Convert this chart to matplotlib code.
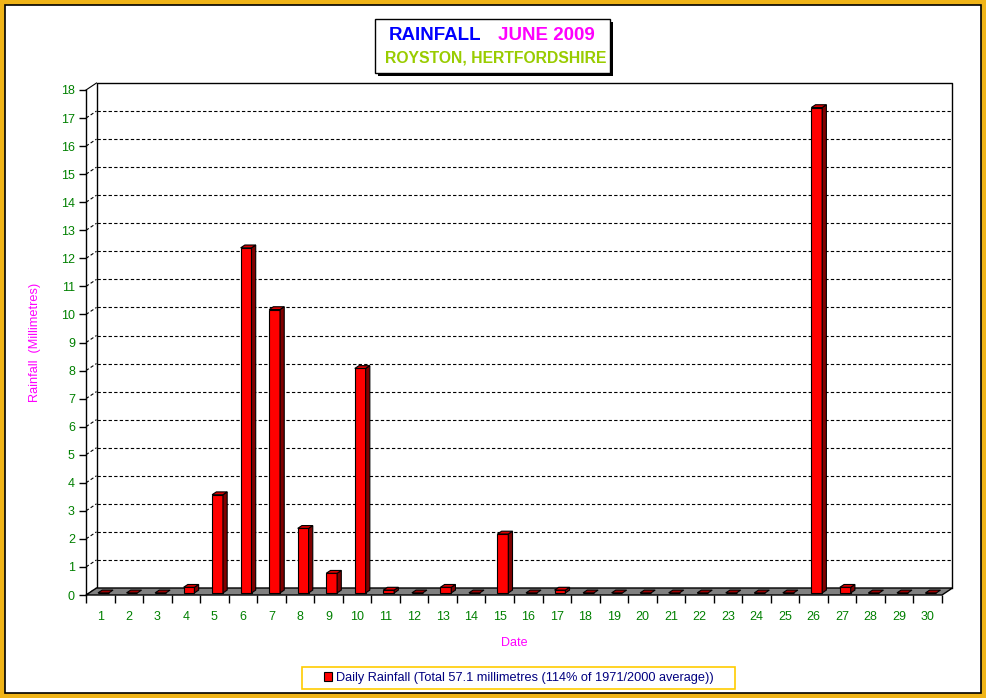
"""Daily rainfall, June 2009, Royston - old-style 3D column chart."""

import matplotlib.pyplot as plt
import matplotlib.patches as mpatches
from matplotlib.patches import Polygon

plt.rcParams["font.family"] = ["Liberation Sans", "DejaVu Sans"]

days = list(range(1, 31))
rain_mm = [0, 0, 0, 0.2, 3.5, 12.3, 10.1, 2.3, 0.7, 8.0,
           0.1, 0, 0.2, 0, 2.1, 0, 0.1, 0, 0, 0,
           0, 0, 0, 0, 0, 17.3, 0.2, 0, 0, 0]
y_ticks = list(range(0, 19))
legend_label = "Daily Rainfall (Total 57.1 millimetres (114% of 1971/2000 average))"

W, H = 987, 698
AX_W, AX_H = 856, 505
DEPTH_PX = (10.5, 7)        # back wall offset (right, up) in pixels
BAR_W = 0.38                # bar width in category units
F0, F1 = 0.3, 0.7           # bar depth span as fraction of full depth

fig = plt.figure(figsize=(W / 100, H / 100), dpi=100)

# outer orange frame + white panel
fig.patches.append(mpatches.Rectangle((0, 0), 1, 1, transform=fig.transFigure,
                                      facecolor="#F0B418", edgecolor="none", zorder=-10))
fig.patches.append(mpatches.Rectangle((5 / W, 5 / H), 976 / W, 688 / H,
                                      transform=fig.transFigure, facecolor="white",
                                      edgecolor="black", lw=1.2, zorder=-9))

ax = fig.add_axes([86 / W, (H - 595) / H, AX_W / W, AX_H / H])
ax.set_facecolor("none")
ax.set_xlim(0.5, 30.5)
ax.set_ylim(0, 18)
for s in ("top", "right", "bottom"):
    ax.spines[s].set_visible(False)
ax.spines["left"].set_linewidth(1)

ddx = DEPTH_PX[0] * 30 / AX_W
ddy = DEPTH_PX[1] * 18 / AX_H
x0, x1 = 0.5, 30.5

# back wall gridlines and side wall diagonals
for k in y_ticks[1:-1]:
    ax.plot([x0 + ddx, x1 + ddx], [k + ddy, k + ddy], color="black", lw=0.8,
            dashes=(3, 2), clip_on=False, zorder=1)
for k in y_ticks:
    ax.plot([x0, x0 + ddx], [k, k + ddy], color="black", lw=0.8,
            dashes=(3, 2) if k != 18 else (None, None),
            clip_on=False, zorder=1)
# back wall frame
ax.plot([x0 + ddx, x0 + ddx, x1 + ddx, x1 + ddx],
        [ddy, 18 + ddy, 18 + ddy, ddy], color="black", lw=1, clip_on=False, zorder=1)

# floor
ax.add_patch(Polygon([(x0, 0), (x1, 0), (x1 + ddx, ddy), (x0 + ddx, ddy)],
                     closed=True, facecolor="#808080", edgecolor="black", lw=1,
                     clip_on=False, zorder=2))

# bars: front face through ax.bar, side and top faces as polygons
fx, fy = F0 * ddx, F0 * ddy
bx, by = (F1 - F0) * ddx, (F1 - F0) * ddy
front_x = [d + fx for d in days]
ax.bar(front_x, rain_mm, width=BAR_W, bottom=fy, color="#FF0000",
       edgecolor="black", lw=0.8, clip_on=False, zorder=4)
for d, v in zip(front_x, rain_mm):
    l, r = d - BAR_W / 2, d + BAR_W / 2
    top = fy + v
    if v > 0:
        ax.add_patch(Polygon([(r, fy), (r + bx, fy + by), (r + bx, top + by), (r, top)],
                             closed=True, facecolor="#800000", edgecolor="black",
                             lw=0.8, clip_on=False, zorder=4))
    ax.add_patch(Polygon([(l, top), (r, top), (r + bx, top + by), (l + bx, top + by)],
                         closed=True, facecolor="#DD0000" if v > 0 else "#A00000",
                         edgecolor="black", lw=0.8, clip_on=False, zorder=4))

# ticks
ax.set_yticks(y_ticks)
ax.set_yticklabels([str(t) for t in y_ticks])
ax.tick_params(axis="y", direction="out", length=5, width=1, pad=3,
               labelsize=9, labelcolor="#008000")
ax.set_xticks([i + 0.5 for i in range(0, 31)])
ax.set_xticklabels([])
ax.set_xticks(days, minor=True)
ax.set_xticklabels([str(d) for d in days], minor=True)
ax.tick_params(axis="x", which="major", direction="out", length=6, width=1)
ax.tick_params(axis="x", which="minor", length=0, pad=11.5, labelsize=9,
               labelcolor="#008000")

ax.set_ylabel("Rainfall  (Millimetres)", color="#FF00FF", fontsize=9.2, labelpad=14)
ax.set_xlabel("Date", color="#FF00FF", fontsize=9, labelpad=10)

# title box with shadow
fig.patches.append(mpatches.Rectangle((378 / W, (H - 76) / H), 235 / W, 54 / H,
                                      transform=fig.transFigure, facecolor="black",
                                      edgecolor="none", zorder=5))
fig.patches.append(mpatches.Rectangle((375 / W, (H - 73) / H), 235 / W, 54 / H,
                                      transform=fig.transFigure, facecolor="white",
                                      edgecolor="black", lw=1, zorder=6))
fig.text(435 / W, 1 - 36 / H, "RAINFALL", color="#0000FF", fontsize=13.5,
         fontweight="bold", ha="center", va="center", zorder=7)
fig.text(546 / W, 1 - 36 / H, "JUNE 2009", color="#FF00FF", fontsize=13.5,
         fontweight="bold", ha="center", va="center", zorder=7)
fig.text(495.5 / W, 1 - 58 / H, "ROYSTON, HERTFORDSHIRE", color="#99CC00",
         fontsize=11.3, fontweight="bold", ha="center", va="center", zorder=7)

# legend box
fig.patches.append(mpatches.Rectangle((302 / W, (H - 689) / H), 433 / W, 22 / H,
                                      transform=fig.transFigure, facecolor="white",
                                      edgecolor="#FFCC00", lw=1.2, zorder=5))
handle = mpatches.Patch(facecolor="#FF0000", edgecolor="black", lw=0.8)
leg = fig.legend([handle], [legend_label], loc="center",
                 bbox_to_anchor=(519 / W, 1 - 678 / H), frameon=False,
                 fontsize=9.2, handlelength=0.6, handleheight=0.7,
                 handletextpad=0.3, borderpad=0)
leg.set_zorder(8)
for t in leg.get_texts():
    t.set_color("#000080")

fig.savefig("out.png", dpi=100)
